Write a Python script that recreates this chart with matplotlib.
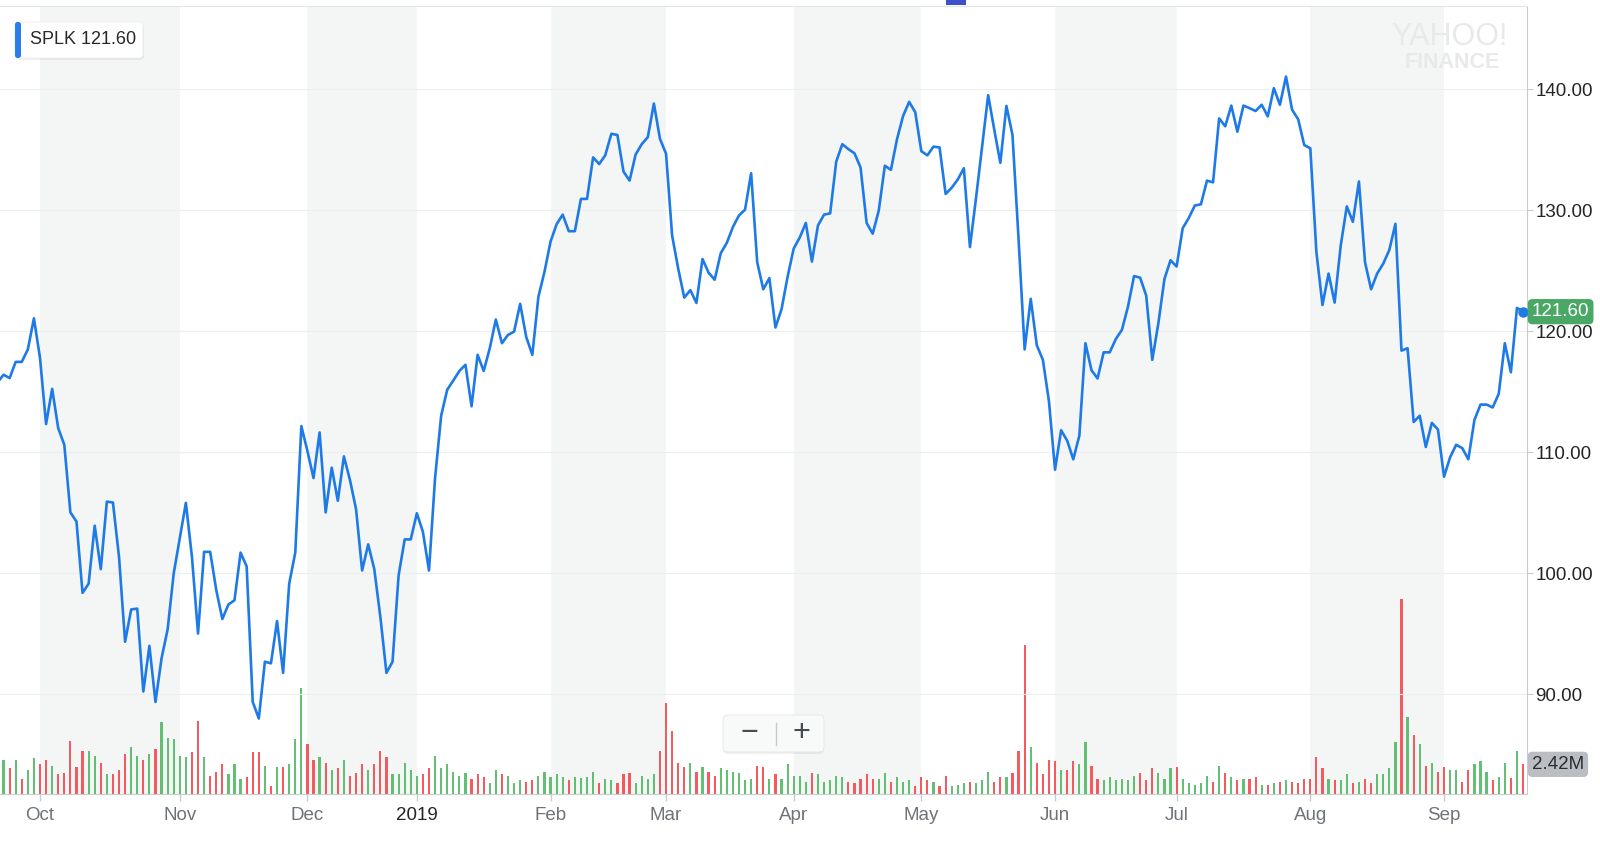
import matplotlib
matplotlib.use("Agg")
import matplotlib.pyplot as plt
from matplotlib.patches import FancyBboxPatch, Rectangle
from matplotlib.lines import Line2D
from matplotlib.transforms import blended_transform_factory, IdentityTransform
import numpy as np
import pandas as pd

plt.rcParams['font.family'] = ['Liberation Sans', 'DejaVu Sans']

# ---- data ----
ticker = "SPLK"
first_day = "2018-09-20"
last_day = "2019-09-20"
# NYSE closures inside the window
market_holidays = ["2018-11-22", "2018-12-05", "2018-12-25", "2019-01-01",
                   "2019-01-21", "2019-02-18", "2019-04-19", "2019-05-27",
                   "2019-07-04", "2019-09-02"]

# daily close, one value per session
close = [
    115.74, 116.39, 116.11, 117.45, 117.45, 118.48, 121.05, 117.79, 112.31, 115.22,
    111.97, 110.60, 105.01, 104.26, 98.36, 99.12, 103.91, 100.32, 105.90, 105.83,
    101.34, 94.32, 96.99, 97.06, 90.21, 93.98, 89.35, 92.95, 95.35, 99.97,
    102.89, 105.80, 101.34, 95.00, 101.75, 101.75, 98.60, 96.20, 97.40, 97.75,
    101.69, 100.55, 89.35, 87.98, 92.67, 92.54, 96.03, 91.75, 99.12, 101.69,
    112.14, 110.08, 107.85, 111.62, 105.01, 108.71, 105.97, 109.64, 107.68, 105.28,
    100.21, 102.37, 100.32, 96.37, 91.75, 92.67, 99.80, 102.78, 102.78, 104.94,
    103.40, 100.21, 107.85, 113.00, 115.15, 115.91, 116.70, 117.21, 113.78, 118.03,
    116.70, 118.58, 120.95, 118.99, 119.68, 119.95, 122.25, 119.51, 118.03, 122.83,
    124.89, 127.39, 128.83, 129.62, 128.25, 128.25, 130.92, 130.92, 134.35, 133.80,
    134.52, 136.30, 136.20, 133.18, 132.43, 134.59, 135.44, 136.02, 138.80, 135.89,
    134.65, 127.90, 125.16, 122.76, 123.38, 122.32, 125.95, 124.82, 124.24, 126.43,
    127.29, 128.59, 129.55, 130.03, 133.04, 125.68, 123.45, 124.37, 120.29, 121.80,
    124.48, 126.81, 127.73, 128.93, 125.74, 128.73, 129.62, 129.72, 134.00, 135.44,
    135.03, 134.69, 133.52, 128.93, 128.04, 129.96, 133.66, 133.32, 135.85, 137.77,
    138.94, 138.08, 134.86, 134.52, 135.24, 135.17, 131.33, 131.84, 132.53, 133.45,
    126.94, 130.99, 135.27, 139.49, 136.64, 133.90, 138.60, 136.20, 127.60, 118.48,
    122.66, 118.82, 117.62, 114.19, 108.54, 111.80, 110.94, 109.40, 111.35, 118.99,
    116.76, 116.08, 118.24, 118.24, 119.34, 120.09, 122.01, 124.54, 124.41, 122.93,
    117.62, 120.64, 124.30, 125.85, 125.33, 128.49, 129.34, 130.37, 130.47, 132.43,
    132.29, 137.57, 136.92, 138.63, 136.47, 138.63, 138.42, 138.18, 138.70, 137.74,
    140.07, 138.70, 141.03, 138.29, 137.50, 135.37, 135.10, 126.53, 122.15, 124.75,
    122.35, 127.05, 130.30, 129.03, 132.36, 125.68, 123.45, 124.75, 125.57, 126.70,
    128.86, 118.38, 118.58, 112.48, 113.00, 110.42, 112.41, 111.86, 107.96, 109.57,
    110.60, 110.32, 109.40, 112.65, 113.92, 113.92, 113.68, 114.81, 118.99, 116.59,
    121.91, 121.60,
]

# daily volume, millions of shares
volume_m = [
    2.60, 2.77, 2.09, 2.77, 1.22, 1.96, 2.91, 2.42, 2.77, 2.28,
    1.60, 1.68, 4.32, 2.17, 3.51, 3.51, 3.13, 2.55, 1.60, 1.60,
    1.96, 3.26, 3.86, 3.13, 2.77, 3.26, 3.64, 5.90, 4.59, 4.46,
    3.13, 3.04, 3.40, 5.98, 3.04, 1.47, 1.82, 2.42, 1.60, 2.45,
    1.22, 1.36, 3.40, 3.40, 2.31, 0.65, 2.17, 2.17, 2.45, 4.46,
    8.61, 4.08, 2.77, 3.04, 2.55, 1.96, 2.09, 2.77, 1.47, 1.74,
    2.45, 1.96, 2.45, 3.51, 3.04, 1.60, 1.60, 2.55, 1.96, 1.47,
    1.60, 2.09, 3.13, 2.09, 2.45, 1.82, 1.47, 1.68, 1.22, 1.60,
    1.36, 0.87, 1.96, 1.60, 1.47, 0.87, 1.14, 1.01, 1.14, 1.47,
    1.82, 1.36, 1.60, 1.36, 1.14, 1.36, 1.28, 1.36, 1.82, 0.87,
    1.22, 1.14, 0.87, 1.60, 1.68, 0.87, 1.47, 1.22, 1.60, 3.51,
    7.45, 5.16, 2.55, 2.17, 2.55, 1.82, 2.17, 1.82, 1.47, 2.09,
    1.96, 1.82, 1.68, 1.14, 1.22, 2.31, 2.17, 1.22, 1.60, 1.22,
    2.42, 1.47, 1.47, 1.01, 1.68, 1.60, 1.01, 1.14, 1.47, 1.36,
    1.01, 0.87, 1.22, 1.60, 1.22, 1.22, 1.68, 1.01, 1.36, 1.01,
    1.14, 0.65, 1.36, 1.14, 1.01, 0.65, 1.47, 0.65, 0.73, 0.87,
    1.01, 0.87, 1.14, 1.82, 1.01, 1.36, 1.36, 1.68, 3.51, 12.15,
    3.86, 2.55, 1.60, 2.77, 2.69, 1.96, 1.96, 2.69, 2.42, 4.21,
    2.31, 1.22, 1.14, 1.36, 1.14, 1.22, 1.14, 1.47, 1.68, 1.14,
    2.09, 1.68, 1.22, 2.09, 2.17, 1.22, 0.87, 0.73, 0.87, 1.47,
    1.01, 2.31, 1.68, 1.36, 1.14, 1.22, 1.22, 1.36, 0.73, 0.73,
    0.87, 1.01, 1.14, 1.01, 0.87, 1.22, 1.22, 3.04, 2.09, 1.22,
    1.14, 1.14, 1.60, 0.87, 1.01, 1.22, 0.87, 1.60, 1.60, 2.09,
    4.21, 15.90, 6.25, 4.81, 4.08, 2.31, 2.55, 1.82, 2.17, 1.96,
    1.96, 1.01, 1.96, 2.42, 2.69, 1.82, 1.14, 1.36, 2.55, 1.33,
    3.51, 2.42,
]

# 1 = up session (green volume bar), 0 = down session (red)
up_day = [
    1, 1, 0, 1, 0, 1, 1, 0, 0, 1,
    0, 0, 0, 0, 0, 1, 1, 0, 1, 0,
    0, 0, 1, 1, 0, 1, 0, 1, 1, 1,
    1, 1, 0, 0, 1, 0, 0, 0, 1, 1,
    1, 0, 0, 0, 1, 0, 1, 0, 1, 1,
    1, 0, 0, 1, 0, 1, 0, 1, 0, 0,
    0, 1, 0, 0, 0, 1, 1, 1, 1, 1,
    0, 0, 1, 1, 1, 1, 1, 1, 0, 0,
    0, 1, 1, 0, 1, 1, 1, 0, 0, 1,
    1, 1, 1, 1, 0, 1, 1, 1, 1, 0,
    1, 1, 0, 0, 0, 1, 1, 1, 1, 0,
    0, 0, 0, 0, 1, 0, 1, 0, 0, 1,
    1, 1, 1, 1, 1, 0, 0, 1, 0, 1,
    1, 1, 1, 1, 0, 1, 1, 1, 1, 1,
    0, 0, 0, 0, 0, 1, 1, 0, 1, 1,
    1, 0, 0, 0, 1, 0, 0, 1, 1, 1,
    0, 1, 1, 1, 0, 0, 1, 0, 0, 0,
    1, 0, 0, 0, 0, 1, 0, 0, 1, 1,
    0, 0, 1, 1, 1, 1, 1, 1, 0, 0,
    0, 1, 1, 1, 0, 1, 1, 1, 1, 1,
    0, 1, 0, 1, 0, 1, 0, 0, 1, 0,
    1, 0, 1, 0, 0, 0, 0, 0, 0, 1,
    0, 1, 1, 0, 1, 0, 0, 1, 1, 1,
    1, 0, 1, 0, 1, 0, 1, 0, 0, 1,
    1, 0, 0, 1, 1, 1, 0, 1, 1, 0,
    1, 0,
]

price_ticks = [90, 100, 110, 120, 130, 140]

# ---- trading calendar ----
days = pd.bdate_range(first_day, last_day)
days = days[~days.isin(pd.to_datetime(market_holidays))]
idx = np.arange(len(days))

# month ticks at the first session; the year tick sits on the last session of December
periods = days.to_period("M")
month_ticks, month_labels = [], []
for p in periods.unique():
    pos = int(np.argmax(periods == p))
    if pos == 0:
        continue  # partial September 2018
    if p.month == 1:
        month_ticks.append(pos - 1)
        month_labels.append(str(p.year))
    else:
        month_ticks.append(pos)
        month_labels.append(p.strftime("%b"))

# ---- figure ----
W, H = 1600, 842
fig = plt.figure(figsize=(W / 100, H / 100), dpi=100)
rect = [0, 48 / H, 1527 / W, 788 / H]

blue = '#1d7ae6'
green_bar = '#52b865'
red_bar = '#f4484e'
axis_grey = '#c8ccd1'

# volume panel (bottom layer, holds month shading)
ax_vol = fig.add_axes(rect)
ax_vol.set_xlim(0.42, 251.65)
ax_vol.set_ylim(0, 64.3)
for a, b in zip(month_ticks[0::2], month_ticks[1::2]):
    ax_vol.axvspan(a, b, color='#f4f6f6', lw=0, zorder=0)
ax_vol.bar(idx, volume_m, width=0.36, lw=0, alpha=0.9,
           color=[green_bar if u else red_bar for u in up_day], zorder=2)
for s in ['left', 'right', 'top']:
    ax_vol.spines[s].set_visible(False)
ax_vol.spines['bottom'].set_color(axis_grey)
ax_vol.set_yticks([])
ax_vol.set_xticks(month_ticks)
ax_vol.set_xticklabels(month_labels)
ax_vol.tick_params(axis='x', length=5, width=1, color=axis_grey, pad=4,
                   labelsize=13.5, labelcolor='#6e7378')
for lbl in ax_vol.get_xticklabels():
    if lbl.get_text().isdigit():
        lbl.set_color('#232526')

vol_tf = blended_transform_factory(ax_vol.transAxes, ax_vol.transData)
ax_vol.annotate(f"{volume_m[-1]:.2f}M", xy=(1, volume_m[-1]), xycoords=vol_tf,
                xytext=(3.5, 0), textcoords='offset points', ha='left', va='center',
                fontsize=13.5, color='#2a2c2f', annotation_clip=False,
                bbox=dict(boxstyle='round,pad=0.22,rounding_size=0.25',
                          fc='#babdc2', ec='none'), zorder=5)

# price panel on top
ax = fig.add_axes(rect, sharex=ax_vol)
ax.set_facecolor('none')
ax.set_ylim(81.74, 146.86)
ax.set_yticks(price_ticks)
ax.set_yticklabels([f"{t:.2f}" for t in price_ticks])
ax.yaxis.tick_right()
ax.grid(axis='y', color='#eceeef', lw=0.8)
ax.tick_params(axis='x', bottom=False, labelbottom=False)
ax.tick_params(axis='y', length=4, width=0.8, color=axis_grey, pad=2,
               labelsize=13.5, labelcolor='#232526')
ax.spines['left'].set_visible(False)
ax.spines['bottom'].set_visible(False)
ax.spines['right'].set_color(axis_grey)
ax.spines['top'].set_color('#e1e5ea')

ax.plot(idx, close, color=blue, lw=1.9, zorder=3)
ax.plot(idx[-1], close[-1], 'o', ms=6.5, color=blue, zorder=4, clip_on=False)

price_tf = blended_transform_factory(ax.transAxes, ax.transData)
ax.annotate(f"{close[-1]:.2f}", xy=(1, close[-1]), xycoords=price_tf,
            xytext=(3.5, 0), textcoords='offset points', ha='left', va='center',
            fontsize=13.5, color='white', annotation_clip=False,
            bbox=dict(boxstyle='round,pad=0.22,rounding_size=0.25',
                      fc='#4aa866', ec='none'), zorder=5)

# ---- overlays in pixel space ----
px = IdentityTransform()

# small marker at the top edge
fig.add_artist(Rectangle((946, H - 5), 20, 5, fc='#3f51c9', ec='none', transform=px))

# ticker badge
fig.add_artist(FancyBboxPatch((16, H - 60), 128, 36, boxstyle='round,pad=0,rounding_size=4',
                              fc=(0, 0, 0, 0.06), ec='none', transform=px))
fig.add_artist(FancyBboxPatch((15, H - 58), 128, 36, boxstyle='round,pad=0,rounding_size=4',
                              fc='white', ec='#eceef0', lw=0.6, transform=px))
fig.add_artist(FancyBboxPatch((15, H - 58), 6, 36, boxstyle='round,pad=0,rounding_size=2.5',
                              fc='#2b7de9', ec='none', transform=px))
fig.text(30 / W, 1 - 40 / H, f"{ticker} {close[-1]:.2f}", fontsize=13,
         va='center', ha='left', color='#26282a')

# watermark
fig.text(1450 / W, 1 - 37 / H, "YAHOO!", fontsize=22, ha='center', va='center',
         color='#e8e9ea')
fig.text(1452 / W, 1 - 62 / H, "FINANCE", fontsize=15.5, fontweight='bold',
         ha='center', va='center', color='#e8e9ea')

# zoom buttons
fig.add_artist(FancyBboxPatch((723, H - 754), 101, 37, boxstyle='round,pad=0,rounding_size=5',
                              fc=(0, 0, 0, 0.06), ec='none', transform=px))
fig.add_artist(FancyBboxPatch((723, H - 752), 101, 37, boxstyle='round,pad=0,rounding_size=5',
                              fc='#f8f9f9', ec='#e4e6e9', lw=0.6, transform=px))
fig.add_artist(Line2D([776, 776], [H - 745, H - 723], color='#c5c8cc', lw=1, transform=px))
fig.text(749 / W, 1 - 733 / H, "\u2212", fontsize=22, ha='center', va='center', color='#464b50')
fig.text(801 / W, 1 - 733 / H, "+", fontsize=22, ha='center', va='center', color='#464b50')

fig.savefig('out.png', dpi=100, facecolor='white')
